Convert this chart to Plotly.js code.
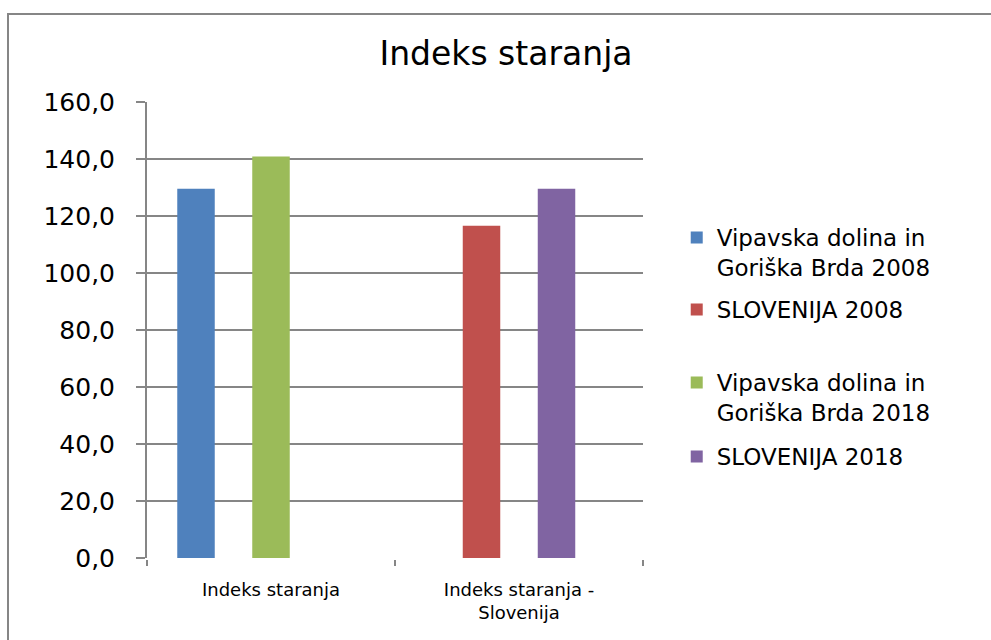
<!DOCTYPE html>
<html>
<head>
<meta charset="utf-8">
<script src="https://cdn.plot.ly/plotly-3.0.1.min.js"></script>
<style>
  html, body { margin: 0; padding: 0; background: #fff; }
  #wrap { position: relative; width: 991px; height: 640px; overflow: hidden; }
  #chart { position: absolute; left: 0; top: 0; width: 991px; height: 640px; }
  #frame { position: absolute; left: 7px; top: 13px; width: 1000px; height: 700px;
           border-left: 2px solid #868686; border-top: 2px solid #868686; pointer-events: none; }
</style>
</head>
<body>
<div id="wrap"><div id="chart"></div><div id="frame"></div></div>
<script>
// ---- data ----
const categories = ['Indeks staranja', 'Indeks staranja -<br>Slovenija'];
const seriesNames = [
  'Vipavska dolina in<br>Goriška Brda 2008',
  'SLOVENIJA 2008',
  'Vipavska dolina in<br>Goriška Brda 2018',
  'SLOVENIJA 2018'
];
const vipava2008 = [129.6, null];
const slovenija2008 = [null, 116.6];
const vipava2018 = [140.9, null];
const slovenija2018 = [null, 129.6];
const emptySeries = [null, null];
const colors = ['#4F81BD', '#C0504D', '#9BBB59', '#8064A2'];
const yTitle = '';

// ---- layout helpers ----
const FONT = 'DejaVu Sans, Liberation Sans, Arial, sans-serif';
const plotTop = 102, plotBottom = 558;
function py(px) { return (plotBottom - px) / (plotBottom - plotTop); }
const legX = 1.068;
const legendRowsPx = [216, 288, 361, 435];

const seriesValues = [vipava2008, slovenija2008, vipava2018, slovenija2018];
const legendIds = ['legend', 'legend2', 'legend3', 'legend4'];

const traces = seriesValues.map((vals, i) => ({
  type: 'bar',
  x: categories,
  y: vals,
  name: seriesNames[i],
  marker: { color: colors[i] },
  legend: legendIds[i],
  hoverinfo: 'none'
}));
traces.push({
  type: 'bar', x: categories, y: emptySeries, name: '', showlegend: false,
  marker: { color: 'rgba(0,0,0,0)' }, hoverinfo: 'none'
});

const layout = {
  width: 991, height: 640,
  paper_bgcolor: '#ffffff', plot_bgcolor: '#ffffff',
  margin: { l: 147, r: 348, t: plotTop, b: 640 - plotBottom, pad: 0 },
  separators: ', ',
  barmode: 'group',
  bargap: 0.244,
  bargroupgap: 0,
  title: {
    text: 'Indeks staranja',
    font: { family: FONT, size: 33, color: '#000' },
    xref: 'container', yref: 'container',
    x: 506 / 991, xanchor: 'center',
    y: 1 - 53 / 640, yanchor: 'middle'
  },
  xaxis: {
    type: 'category',
    showgrid: false,
    zeroline: false,
    showline: true, linecolor: '#ffffff', linewidth: 2,
    ticks: 'outside', tickson: 'boundaries', ticklen: 6, tickwidth: 2, tickcolor: '#868686',
    ticklabelstandoff: 14,
    tickfont: { family: FONT, size: 18, color: '#000' },
    fixedrange: true
  },
  yaxis: {
    range: [0, 160],
    dtick: 20, tick0: 0,
    tickformat: '.1f',
    showgrid: true, gridcolor: '#868686', gridwidth: 2,
    zeroline: false,
    showline: true, linecolor: '#868686', linewidth: 2,
    ticks: 'outside', ticklen: 9, tickwidth: 2, tickcolor: '#868686',
    ticklabelstandoff: 16,
    tickfont: { family: FONT, size: 25, color: '#000' },
    title: { text: yTitle },
    fixedrange: true
  },
  showlegend: true
};

legendIds.forEach((id, i) => {
  layout[id] = {
    x: legX, xanchor: 'left',
    y: py(legendRowsPx[i]), yanchor: 'top',
    xref: 'paper', yref: 'paper',
    bgcolor: 'rgba(0,0,0,0)', borderwidth: 0,
    valign: 'top',
    font: { family: FONT, size: 23, color: '#000' }
  };
});

Plotly.newPlot('chart', traces, layout, { displayModeBar: false, staticPlot: true });
</script>
</body>
</html>
